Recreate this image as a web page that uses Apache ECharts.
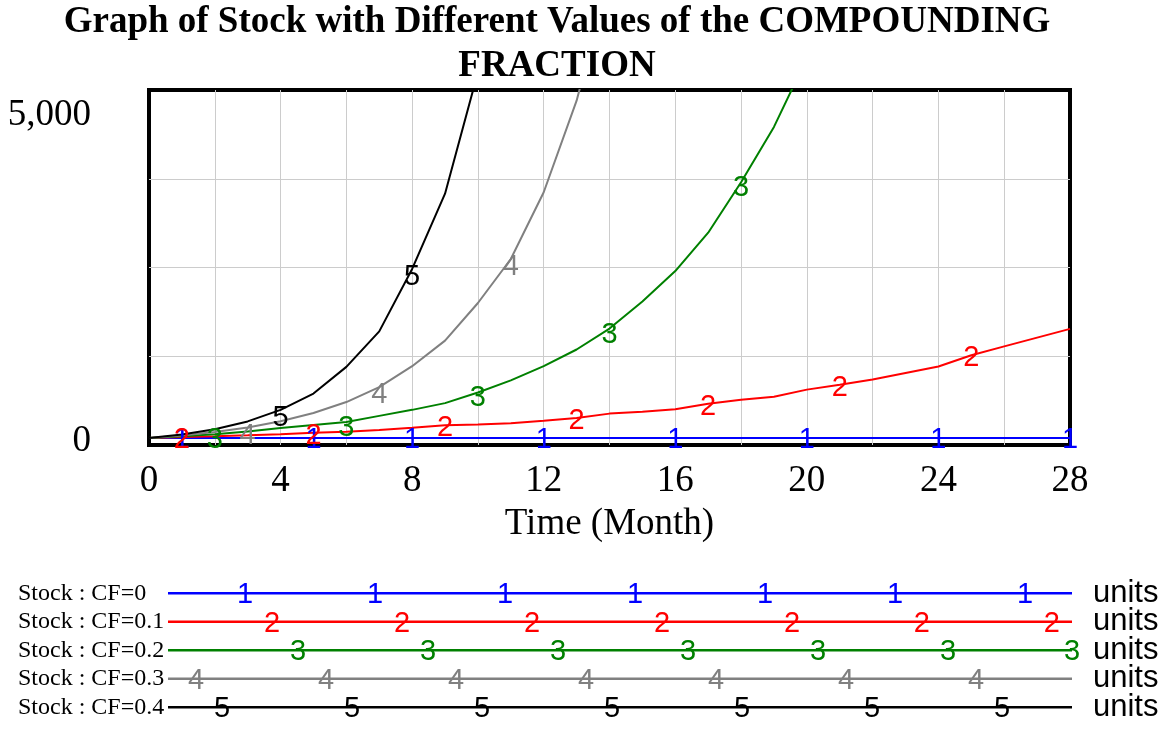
<!DOCTYPE html>
<html>
<head>
<meta charset="utf-8">
<script src="https://cdn.jsdelivr.net/npm/echarts@6/dist/echarts.min.js"></script>
<style>
  html, body { margin: 0; padding: 0; background: #fff; }
  #chart { width: 1163px; height: 730px; }
</style>
</head>
<body>
<div id="chart"></div>
<script>
// values, one per month
const months = [0, 1, 2, 3, 4, 5, 6, 7, 8, 9, 10, 11, 12, 13, 14, 15, 16, 17, 18, 19, 20, 21, 22, 23, 24, 25, 26, 27, 28]
const stockCF0 = [100, 100, 100, 100, 100, 100, 100, 100, 100, 100, 100, 100, 100, 100, 100, 100, 100, 100, 100, 100, 100, 100, 100, 100, 100, 100, 100, 100, 100]
const stockCF01 = [100, 112, 124, 137, 152, 172, 188, 210, 242, 278, 290, 305, 342, 380, 442, 470, 502, 582, 638, 680, 780, 850, 922, 1013, 1105, 1265, 1389, 1512, 1636]
const stockCF02 = [100, 122, 150, 190, 240, 280, 325, 410, 495, 590, 740, 910, 1110, 1345, 1640, 2020, 2450, 2990, 3700, 4480, 5450]
const stockCF03 = [100, 135, 182, 246, 335, 450, 605, 815, 1110, 1470, 2000, 2620, 3560, 4850, 6600]
const stockCF04 = [100, 149, 223, 332, 495, 725, 1100, 1600, 2480, 3540, 5250]

const seriesNames = ['Stock : CF=0', 'Stock : CF=0.1', 'Stock : CF=0.2', 'Stock : CF=0.3', 'Stock : CF=0.4']
const seriesValues = [stockCF0, stockCF01, stockCF02, stockCF03, stockCF04]
const seriesColors = ['#0000ff', '#ff0000', '#008000', '#808080', '#000000']
// months where the series number is written on the line
const markerMonths = [
  [1, 5, 8, 12, 16, 20, 24, 28],
  [1, 5, 9, 13, 17, 21, 25],
  [2, 6, 10, 14, 18],
  [3, 7, 11],
  [4, 8]
]
const xTickLabels = ['0', '4', '8', '12', '16', '20', '24', '28']
const yTickValues = [0, 5000]
const yTickLabels = ['0', '5,000']
const unitLabel = 'units'

// number labels sit a little under the line, more so on the steep ones
const markerDrop = [2, 3, 6, 8, 8]

// legend strip: where the first number sits on each row, and the step between numbers
const legendMarkPhase = [0.0852, 0.1150, 0.1438, 0.0310, 0.0597]
const legendMarkStep = 0.1438

const chart = echarts.init(document.getElementById('chart'))

const serif = 'Liberation Serif'
const sans = 'Liberation Sans'

const plotSeries = seriesValues.map((vals, i) => ({
  type: 'line',
  name: seriesNames[i],
  xAxisIndex: 0,
  yAxisIndex: 0,
  data: vals.map((v, k) => ({
    value: [months[k], v],
    label: { show: markerMonths[i].includes(months[k]) }
  })),
  symbol: 'circle',
  symbolSize: 1,
  showSymbol: true,
  showAllSymbol: true,
  clip: true,
  itemStyle: { color: 'transparent' },
  lineStyle: { color: seriesColors[i], width: 2 },
  label: {
    show: false,
    position: 'inside',
    formatter: String(i + 1),
    color: seriesColors[i],
    fontFamily: sans,
    fontSize: 29,
    offset: [0, markerDrop[i]]
  },
  silent: true,
  animation: false
}))

const legendSeries = seriesNames.map((name, i) => {
  const pts = [{ value: [0, name] }]
  for (let p = legendMarkPhase[i]; p < 1.01; p += legendMarkStep) {
    pts.push({ value: [Math.min(p, 1), name], label: { show: true } })
  }
  pts.push({ value: [1, name] })
  return {
    type: 'line',
    xAxisIndex: 1,
    yAxisIndex: 1,
    data: pts,
    symbol: 'circle',
    symbolSize: 1,
    showSymbol: true,
    showAllSymbol: true,
    itemStyle: { color: 'transparent' },
    lineStyle: { color: seriesColors[i], width: 2.5 },
    label: {
      show: false,
      position: 'inside',
      formatter: String(i + 1),
      color: seriesColors[i],
      fontFamily: sans,
      fontSize: 29,
      offset: [0, 2]
    },
    silent: true,
    animation: false
  }
})

const option = {
  backgroundColor: '#fff',
  animation: false,
  title: {
    text: 'Graph of Stock with Different Values of the COMPOUNDING\nFRACTION',
    left: 557,
    top: 0,
    padding: 0,
    textAlign: 'center',
    textStyle: {
      fontFamily: serif,
      fontWeight: 'bold',
      fontSize: 37,
      lineHeight: 44,
      color: '#000'
    }
  },
  grid: [
    {
      left: 149, top: 90, width: 921, height: 355,
      show: true, borderColor: '#000', borderWidth: 4,
      outerBoundsMode: 'none'
    },
    {
      left: 168, top: 579, width: 904, height: 142.5,
      outerBoundsMode: 'none'
    }
  ],
  xAxis: [
    {
      type: 'value',
      gridIndex: 0,
      min: 0,
      max: 28,
      interval: 2,
      name: 'Time (Month)',
      nameLocation: 'middle',
      nameGap: 61,
      nameTextStyle: { fontFamily: serif, fontSize: 37, color: '#000' },
      axisLine: { show: false },
      axisTick: { show: false },
      axisLabel: {
        margin: 18,
        fontFamily: serif,
        fontSize: 37,
        color: '#000',
        formatter: v => (v % 4 === 0 ? xTickLabels[v / 4] : '')
      },
      splitLine: {
        show: true,
        showMinLine: false,
        showMaxLine: false,
        lineStyle: { color: '#cccccc', width: 1 }
      }
    },
    {
      type: 'value',
      gridIndex: 1,
      min: 0,
      max: 1,
      show: false
    }
  ],
  yAxis: [
    {
      type: 'value',
      gridIndex: 0,
      min: 0,
      max: 5000,
      interval: 1250,
      axisLine: { show: false },
      axisTick: { show: false },
      axisLabel: {
        margin: 58,
        fontFamily: serif,
        fontSize: 37,
        color: '#000',
        formatter: v => {
          const k = yTickValues.indexOf(v)
          if (k < 0) return ''
          return k === 0 ? '{bot|' + yTickLabels[k] + '}' : '{top|' + yTickLabels[k] + '}'
        },
        rich: {
          top: { fontFamily: serif, fontSize: 37, color: '#000', padding: [50, 0, 0, 0] },
          bot: { fontFamily: serif, fontSize: 37, color: '#000', padding: [0, 0, 8, 0] }
        }
      },
      splitLine: {
        show: true,
        showMinLine: false,
        showMaxLine: false,
        lineStyle: { color: '#cccccc', width: 1 }
      }
    },
    {
      type: 'category',
      gridIndex: 1,
      data: seriesNames,
      inverse: true,
      axisLine: { show: false },
      axisTick: { show: false },
      axisLabel: {
        interval: 0,
        align: 'left',
        margin: 150,
        fontFamily: serif,
        fontSize: 24,
        color: '#000'
      }
    },
    {
      type: 'category',
      gridIndex: 1,
      position: 'right',
      data: seriesNames,
      inverse: true,
      axisLine: { show: false },
      axisTick: { show: false },
      axisLabel: {
        interval: 0,
        margin: 21,
        fontFamily: sans,
        fontSize: 31,
        color: '#000',
        formatter: () => unitLabel
      }
    }
  ],
  series: plotSeries.concat(legendSeries)
}

chart.setOption(option)
</script>
</body>
</html>
